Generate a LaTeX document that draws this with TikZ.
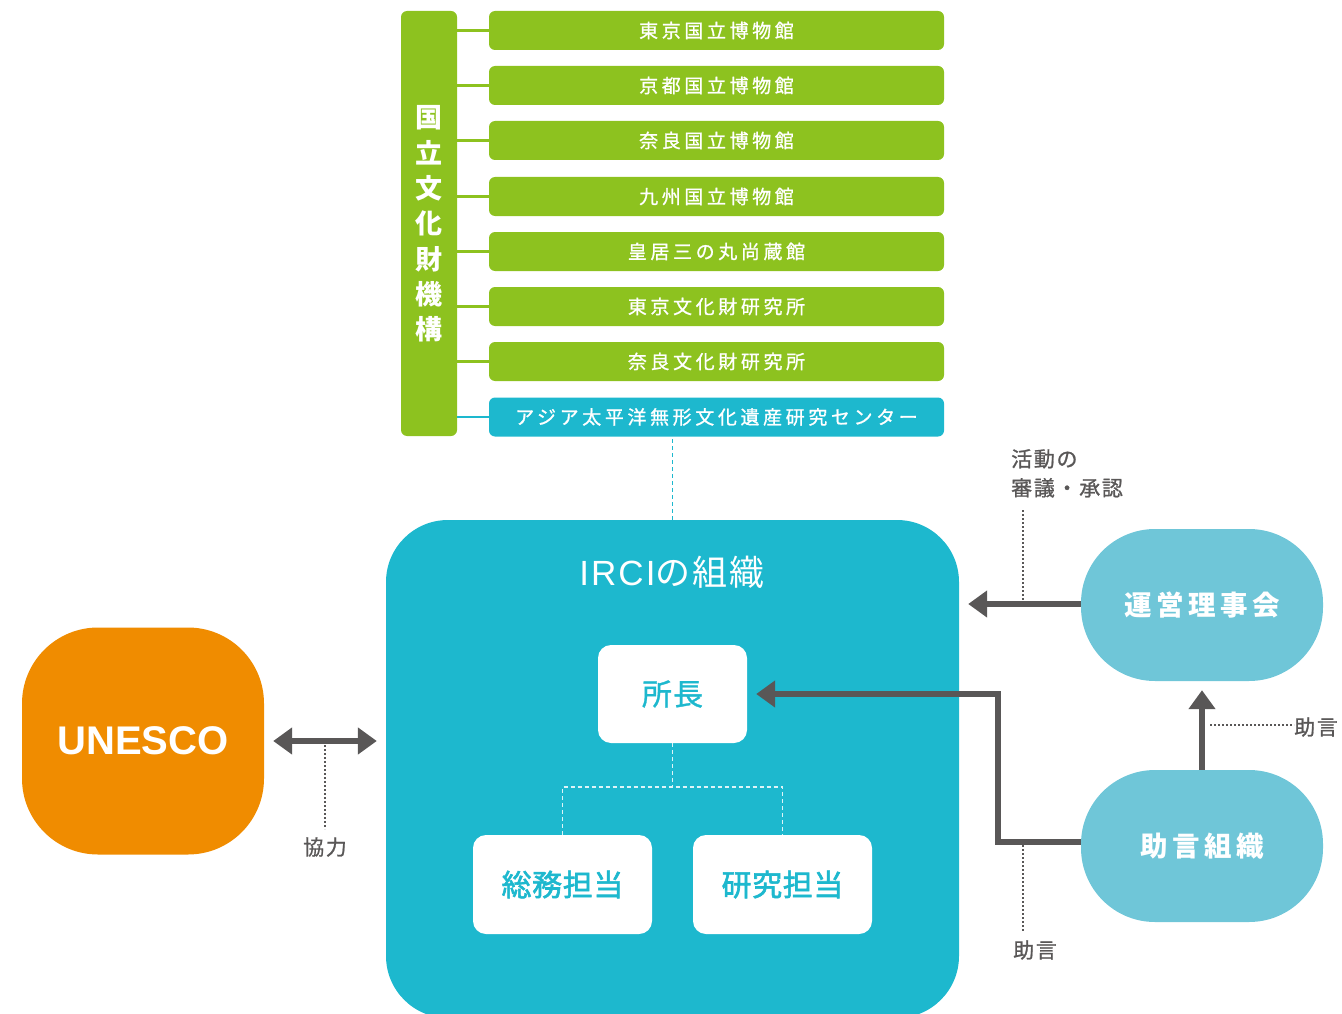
\documentclass[tikz,border=0pt]{standalone}
\usepackage{fontspec}
\setmainfont{Noto Sans CJK JP}
\newfontfamily\latinfont{Liberation Sans}
\usetikzlibrary{arrows.meta,calc}
\definecolor{cgreen}{HTML}{8DC21F}
\definecolor{ccyan}{HTML}{1DB8CE}
\definecolor{clight}{HTML}{6FC6D8}
\definecolor{corange}{HTML}{F08C00}
\definecolor{cgray}{HTML}{595757}
\tikzset{
  x=1pt,y=-1pt,
  gbox/.style={fill=cgreen, rounded corners=6pt, minimum width=455pt, minimum height=39pt, inner sep=0pt, text=white,
    font=\fontsize{19}{20}\selectfont\addfontfeature{LetterSpace=19,FakeBold=1}},
  cbox/.style={gbox, fill=ccyan},
  gline/.style={cgreen, line width=2.2pt},
  cline/.style={ccyan, line width=2.2pt},
  wbox/.style={fill=white, rounded corners=13pt, inner sep=0pt, text=ccyan,
    font=\fontsize{30}{32}\selectfont\addfontfeature{LetterSpace=4,FakeBold=1}},
  pill/.style={fill=clight, rounded corners=74pt, minimum width=242pt, minimum height=152pt, inner sep=0pt, text=white,
    font=\bfseries\fontsize{27.5}{30}\selectfont\addfontfeature{LetterSpace=16}},
  bigarrow/.style={cgray, line width=6.5pt, -{Triangle[length=19pt,width=26pt]}},
  dotline/.style={cgray, line width=1.2pt, dash pattern=on 2pt off 2pt},
  wdash/.style={white!85!ccyan, line width=1.6pt, dash pattern=on 4pt off 3pt},
  lbl/.style={text=cgray, inner sep=0pt, font=\fontsize{21}{29}\selectfont\addfontfeature{LetterSpace=8,FakeBold=1}},
}
\begin{document}
\begin{tikzpicture}
\useasboundingbox (0,0) rectangle (1342,1014);
\clip (0,0) rectangle (1342,1014);
% organisation bar
\node[fill=cgreen, rounded corners=6pt, minimum width=56pt, minimum height=425pt, inner sep=0pt] (bar) at (429,223.5) {};
\node[text=white, inner sep=0pt, align=center, font=\bfseries\fontsize{27}{35.3}\selectfont] (bartext) at (429,224) {国\\立\\文\\化\\財\\機\\構};
% boxes
\node[gbox] (b1) at (716.5,30.5) {東京国立博物館};
\node[gbox] (b2) at (716.5,85.5) {京都国立博物館};
\node[gbox] (b3) at (716.5,140.5) {奈良国立博物館};
\node[gbox] (b4) at (716.5,196.5) {九州国立博物館};
\node[gbox] (b5) at (716.5,251.5) {皇居三の丸尚蔵館};
\node[gbox] (b6) at (716.5,306.5) {東京文化財研究所};
\node[gbox] (b7) at (716.5,361.5) {奈良文化財研究所};
\node[cbox] (b8) at (716.5,417) {アジア太平洋無形文化遺産研究センター};
\foreach \b in {b1,b2,b3,b4,b5,b6,b7}{
  \draw[gline] (bar.east |- \b.west) -- (\b.west);
}
\draw[cline] (bar.east |- b8.west) -- (b8.west);
% IRCI
\node[fill=ccyan, rounded corners=62pt, minimum width=573pt, minimum height=498pt, inner sep=0pt] (irci) at (672.5,769) {};
\draw[ccyan, line width=1.8pt, dash pattern=on 4pt off 3pt] (irci.north) -- (irci.north |- b8.south);
\node[text=white, inner sep=0pt, font=\fontsize{35}{36}\selectfont\addfontfeature{LetterSpace=6}] (title) at (672,572) {{\latinfont\addfontfeature{LetterSpace=6}IRCI}の組織};
\node[wbox, minimum width=149pt, minimum height=98pt] (shocho) at (672.5,694) {所長};
\node[wbox, minimum width=179pt, minimum height=99pt, font=\fontsize{30}{32}\selectfont\addfontfeature{LetterSpace=2,FakeBold=2}] (somu) at (562.5,884.5) {総務担当};
\node[wbox, minimum width=179pt, minimum height=99pt, font=\fontsize{30}{32}\selectfont\addfontfeature{LetterSpace=2,FakeBold=2}] (kenkyu) at (782.5,884.5) {研究担当};
\coordinate (split) at (672.5,787);
\draw[wdash] (shocho.south) -- (split);
\draw[wdash] (somu.north) -- (somu.north |- split) -- (kenkyu.north |- split) -- (kenkyu.north);
% UNESCO
\node[fill=corange, rounded corners=76pt, minimum width=242pt, minimum height=227pt, inner sep=0pt, text=white,
  font=\latinfont\bfseries\fontsize{40}{42}\selectfont] (unesco) at (143,741) {UNESCO};
\draw[cgray, line width=6.5pt, {Triangle[length=19pt,width=26pt]}-{Triangle[length=19pt,width=26pt]}]
  ([xshift=9pt]unesco.east) -- ([xshift=-9pt]irci.west |- unesco.east);
\coordinate (kyo) at (325,745);
\node[lbl] (kyoryoku) at (325,847) {協力};
\draw[dotline] (kyo) -- (kyoryoku.north |- 0,829);
% right side
\node[pill] (riji) at (1202,605) {運営理事会};
\node[pill] (jogen) at (1202,846) {助言組織};
\draw[bigarrow] (riji.west |- 0,604) -- ($(irci.east |- 0,604)+(9,0)$);
\node[lbl, anchor=north west, align=left] (shingi) at (1011,449) {活動の\\審議・承認};
\draw[dotline] (1023,510) -- (1023,602);
\draw[bigarrow] (jogen.west |- 0,842) -- (998,842) |- ([xshift=9pt]shocho.east);
\draw[dotline] (1023,845) -- (1023,932);
\node[lbl] (jogen2) at (1035,950) {助言};
\draw[bigarrow] (jogen.north) -- ([yshift=-9pt]riji.south);
\node[lbl, anchor=west] (jogen3) at (1294,727) {助言};
\draw[dotline] (1210,725) -- (jogen3.west |- 0,725);
\end{tikzpicture}
\end{document}
